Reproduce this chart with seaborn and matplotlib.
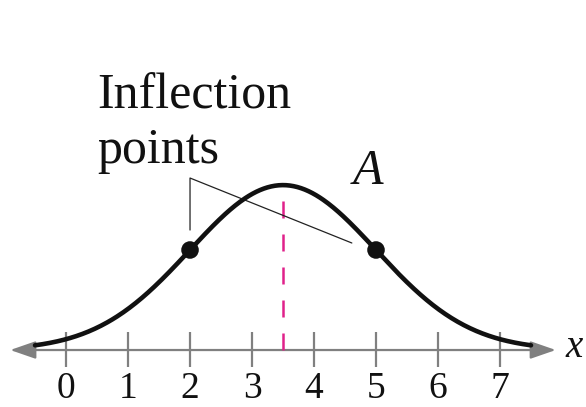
import numpy as np
import pandas as pd
import matplotlib
matplotlib.use("Agg")
import matplotlib.pyplot as plt
import seaborn as sns

sns.set_theme(style="white")
plt.rcParams["font.family"] = ["Liberation Serif", "DejaVu Serif"]

# Normal curve parameters (mean and standard deviation)
mu = 3.5
sigma = 1.5
x_start, x_end = -0.5, 7.5

# Tick values along the x-axis
tick_values = [0, 1, 2, 3, 4, 5, 6, 7]
tick_labels = ["0", "1", "2", "3", "4", "5", "6", "7"]

# Inflection points at mu ± sigma
inflection_x = [2, 5]


def pdf(v):
    v = np.asarray(v, dtype=float)
    return np.exp(-0.5 * ((v - mu) / sigma) ** 2) / (sigma * np.sqrt(2 * np.pi))


xs = np.linspace(x_start, x_end, 400)
curve = pd.DataFrame({"x": xs, "y": pdf(xs)})
pts = pd.DataFrame({"x": inflection_x, "y": pdf(inflection_x)})

fig = plt.figure(figsize=(5.86, 4.07), dpi=100)
ax = fig.add_axes([0, 0, 1, 1])
ax.set_xlim(-1.065, 8.387)
ax.set_ylim(-0.0919, 0.5645)
ax.axis("off")

axis_gray = "#808080"

# x-axis with arrowheads at both ends
ax.annotate("", xy=(-0.9, 0), xytext=(7.9, 0),
            arrowprops=dict(arrowstyle="<|-|>,head_length=1.3,head_width=0.45",
                            color=axis_gray, lw=1.6, shrinkA=0, shrinkB=0),
            zorder=1)

# Tick marks and labels
ax.vlines(tick_values, -0.027, 0.029, color=axis_gray, lw=1.6, zorder=1)
for v, lab in zip(tick_values, tick_labels):
    ax.text(v, -0.0629, lab, ha="center", va="center", fontsize=27, color="#111111")

ax.text(8.05, -0.0113, "x", fontsize=28, style="italic", ha="left", va="baseline",
        color="#111111")

# Dashed line at the mean
ax.plot([mu, mu], [0, 0.245], color="#E0218A", lw=1.8,
        linestyle=(0, (6.8, 6.4)), zorder=2)

# The bell curve and its inflection points
sns.lineplot(data=curve, x="x", y="y", ax=ax, color="#111111", lw=3.3,
             sort=False, zorder=3)
sns.scatterplot(data=pts, x="x", y="y", ax=ax, color="#111111", s=160,
                edgecolor="none", zorder=4)

# Leader lines for the label
ax.plot([2.0, 2.0, 4.61], [0.1935, 0.2774, 0.1726], color="#222222", lw=0.9,
        zorder=2)

ax.text(0.5, 0.389, "Inflection", fontsize=36, ha="left", va="baseline",
        color="#111111")
ax.text(0.5, 0.3016, "points", fontsize=36, ha="left", va="baseline",
        color="#111111")
ax.text(4.63, 0.2677, "A", fontsize=36, style="italic", ha="left", va="baseline",
        color="#111111")

fig.savefig("out.png", dpi=100)
